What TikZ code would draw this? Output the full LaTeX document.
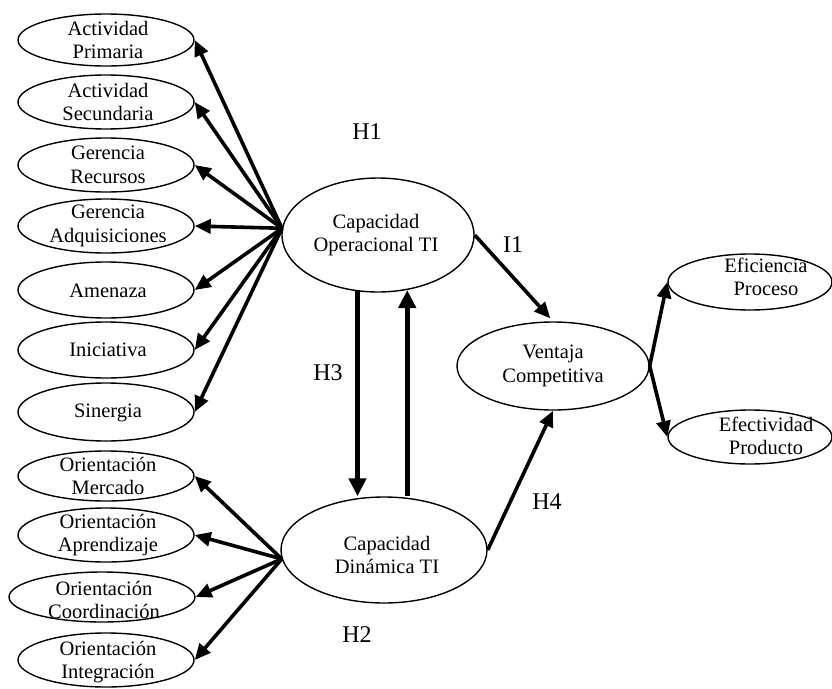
\documentclass[tikz,border=0pt]{standalone}
\usepackage{fontspec}
\setmainfont{Liberation Serif}
\usetikzlibrary{shapes.geometric,arrows.meta}
\begin{document}
\begin{tikzpicture}[x=1pt,y=-1pt,
  ell/.style={ellipse,draw,line width=1.4pt,inner sep=0pt},
  txt/.style={align=center,font=\fontsize{20.5}{23.5}\selectfont,inner sep=0pt},
  hyp/.style={font=\fontsize{24}{28}\selectfont,inner sep=0pt},
  arr/.style={line width=3.6pt,-{Triangle[length=16pt,width=14pt]}},
  ]
\fill[white] (0,0) rectangle (832,688);
\useasboundingbox (0,0) rectangle (832,688);

% indicators of the operational capability
\node[ell,minimum width=176,minimum height=52] (ap)  at (106,40)  {};
\node[ell,minimum width=176,minimum height=54] (as)  at (106,102) {};
\node[ell,minimum width=176,minimum height=54] (gr)  at (106,165) {};
\node[ell,minimum width=176,minimum height=54] (ga)  at (106,226) {};
\node[ell,minimum width=176,minimum height=56] (am)  at (106,290) {};
\node[ell,minimum width=176,minimum height=56] (ini) at (106,350) {};
\node[ell,minimum width=176,minimum height=58] (si)  at (106,412) {};
\node[txt] (tap)  at (108,40)  {Actividad\\Primaria};
\node[txt] (tas)  at (108,102) {Actividad\\Secundaria};
\node[txt] (tgr)  at (108,165) {Gerencia\\Recursos};
\node[txt] (tga)  at (108,226) {Gerencia\\Adquisiciones};
\node[txt] (tam)  at (108,291) {Amenaza};
\node[txt] (tini) at (108,350) {Iniciativa};
\node[txt] (tsi)  at (108,413) {Sinergia};

% indicators of the dynamic capability
\node[ell,minimum width=176,minimum height=50] (om) at (106,476) {};
\node[ell,minimum width=176,minimum height=54] (oa) at (106,535) {};
\node[ell,minimum width=186,minimum height=50] (oc) at (102,597) {};
\node[ell,minimum width=176,minimum height=54] (oi) at (106,660) {};
\node[txt] (tom) at (108,476) {Orientación\\Mercado};
\node[txt] (toa) at (108,535) {Orientación\\Aprendizaje};
\node[txt] (toc) at (104,600) {Orientación\\Coordinación};
\node[txt] (toi) at (108,662) {Orientación\\Integración};

% main constructs
\node[ell,minimum width=192,minimum height=114] (op)  at (378,235) {};
\node[ell,minimum width=206,minimum height=106] (dyn) at (384,550) {};
\node[ell,minimum width=192,minimum height=88]  (ven) at (553,366) {};
\node[txt] (top)  at (376,235) {Capacidad\\Operacional TI};
\node[txt] (tdyn) at (387,555) {Capacidad\\Dinámica TI};
\node[txt] (tven) at (553,366) {Ventaja\\Competitiva};

% indicators of the competitive advantage
\node[ell,minimum width=164,minimum height=56] (ef) at (750,282) {};
\node[ell,minimum width=164,minimum height=54] (et) at (750,437) {};
\node[txt] (tef) at (766,277) {Eficiencia\\Proceso};
\node[txt] (tet) at (766,436) {Efectividad\\Producto};

% hypothesis labels
\node[hyp] (h1) at (367,132) {H1};
\node[hyp] (i1) at (513,245) {I1};
\node[hyp] (h3) at (328,373) {H3};
\node[hyp] (h4) at (547,502) {H4};
\node[hyp] (h2) at (357,635) {H2};

% connectors
\foreach \n in {ap,as,gr,ga,am,ini,si}
  \draw[arr] (op.176) -- (\n.east);
\foreach \n in {om,oa,oc,oi}
  \draw[arr] (dyn.185) -- (\n.east);
\draw[arr,line width=4.6pt,-{Triangle[length=18pt,width=17pt]}] (op.250) -- (op.250 |- dyn.north);
\draw[arr,line width=4.6pt,-{Triangle[length=18pt,width=17pt]}] (op.298 |- dyn.north) -- (op.298);
\draw[arr,shorten >=4pt] (op.east) -- (ven.north);
\draw[arr] (dyn.east) -- (ven.south);
\draw[arr] (ven.east) -- (ef.west);
\draw[arr] (ven.east) -- (et.west);
\end{tikzpicture}
\end{document}
